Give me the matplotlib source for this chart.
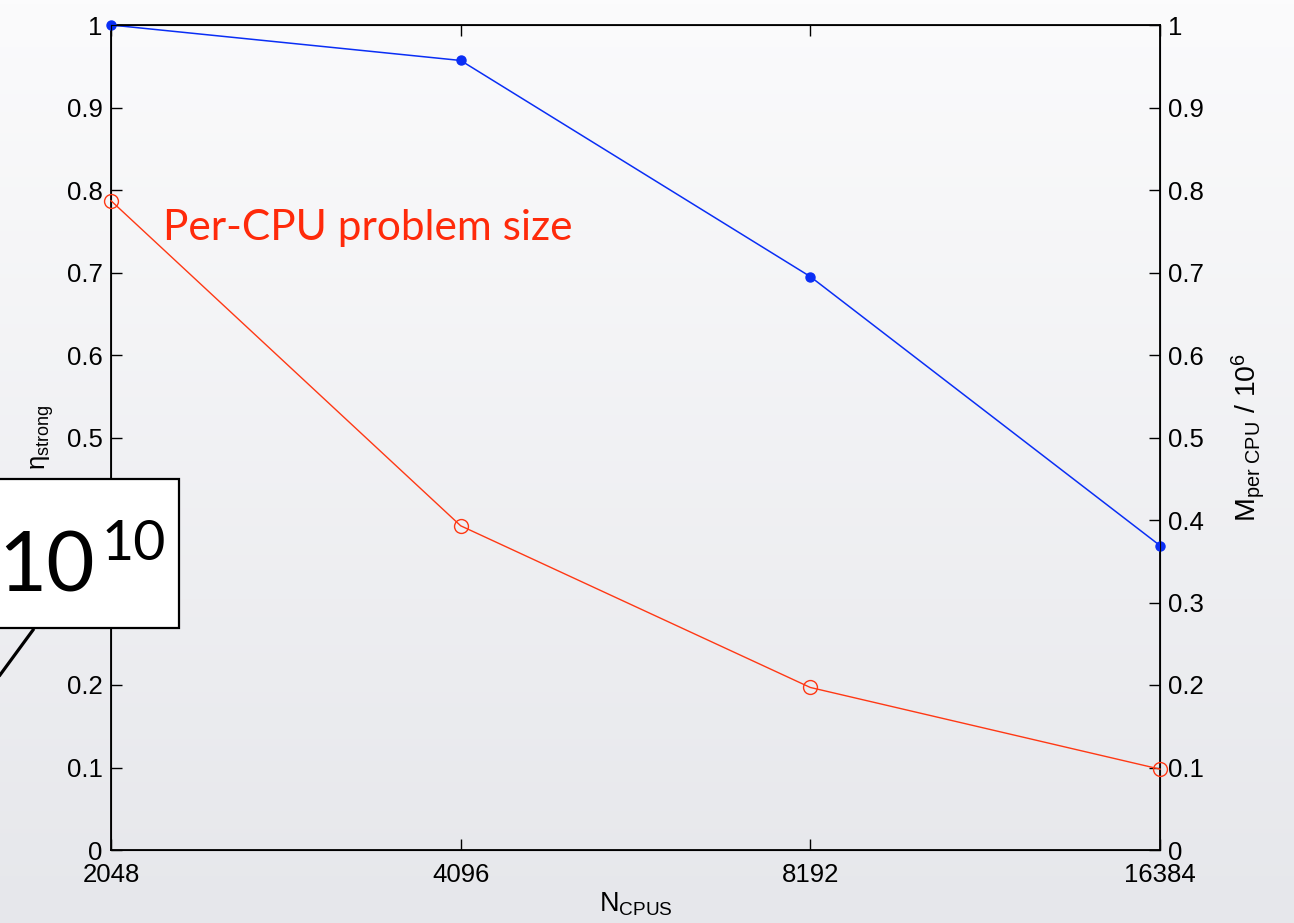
import numpy as np
import matplotlib
matplotlib.use('Agg')
import matplotlib.pyplot as plt
from matplotlib.patches import Rectangle
from matplotlib.lines import Line2D

plt.rcParams['font.family'] = ['Liberation Sans', 'DejaVu Sans']
plt.rcParams['mathtext.fontset'] = 'custom'
plt.rcParams['mathtext.rm'] = 'Liberation Sans'
plt.rcParams['mathtext.it'] = 'Liberation Sans:italic'

# strong scaling runs
n_cpus = [2048, 4096, 8192, 16384]
eta_strong = [1.0, 0.957, 0.695, 0.369]
m_per_cpu = [0.787, 0.393, 0.197, 0.098]   # / 1e6

y_ticks = [0, 0.1, 0.2, 0.3, 0.4, 0.5, 0.6, 0.7, 0.8, 0.9, 1]
y_tick_labels = ['0', '0.1', '0.2', '0.3', '0.4', '0.5', '0.6', '0.7', '0.8', '0.9', '1']

W, H = 1294, 923
fig = plt.figure(figsize=(W / 100, H / 100), dpi=100)

# soft slide-style background
bg = fig.add_axes([0, 0, 1, 1], zorder=-10)
grad = np.linspace(0, 1, 256).reshape(-1, 1)
top = np.array([251, 251, 252]) / 255
bot = np.array([230, 231, 235]) / 255
img = top + (bot - top) * grad[:, :, None]
bg.imshow(img, aspect='auto', extent=[0, 1, 0, 1])
bg.axis('off')

ax = fig.add_axes([111 / W, (H - 850) / H, (1160 - 111) / W, (850 - 25) / H])
ax.set_facecolor('none')
ax.set_xscale('log', base=2)
ax.set_xlim(2048, 16384)
ax.set_ylim(0, 1)

ax.plot(n_cpus, eta_strong, '-o', color='#0a2ef5', lw=1.1, ms=6.5, clip_on=False, zorder=5)
ax.set_xticks(n_cpus)
ax.set_xticklabels([str(n) for n in n_cpus])
ax.xaxis.set_minor_locator(matplotlib.ticker.NullLocator())
ax.set_yticks(y_ticks)
ax.set_yticklabels(y_tick_labels)
ax.tick_params(direction='in', length=8, width=1, labelsize=18.5, top=True, pad=6)
ax.tick_params(axis='x', pad=9)
ax.set_ylabel('η$_{\\mathrm{strong}}$', fontsize=18.5, labelpad=8)
ax.set_xlabel('N$_{\\mathrm{CPUS}}$', fontsize=19.5, labelpad=3)
for s in ax.spines.values():
    s.set_linewidth(1.3)

ax2 = ax.twinx()
ax2.set_ylim(0, 1)
ax2.plot(n_cpus, m_per_cpu, '-o', color='#ff3814', lw=1.0, ms=10, mfc='none', mew=1.0,
         clip_on=False, zorder=5)
ax2.set_yticks(y_ticks)
ax2.set_yticklabels(y_tick_labels)
ax2.tick_params(direction='in', length=8, width=1, labelsize=18.5, pad=6)
ax2.set_ylabel('M$_{\\mathrm{per\\ CPU}}$ / 10$^{6}$', fontsize=20.5, labelpad=18)

fig.text(163 / W, (H - 240) / H, 'Per-CPU problem size', color='#ff2a0a',
         fontsize=30.5, family='Lato', va='baseline', ha='left')

# call-out box for the total problem size
box = Rectangle((-10 / W, (H - 628) / H), 189 / W, 149 / H, transform=fig.transFigure,
                facecolor='white', edgecolor='black', lw=1.6, zorder=20)
fig.add_artist(box)
fig.text(-2 / W, (H - 592) / H, '10', fontsize=60, family='Lato', ha='left',
         va='baseline', zorder=21)
fig.text(166 / W, (H - 560) / H, '10', fontsize=40, family='Lato', ha='right',
         va='baseline', zorder=21)
fig.add_artist(Line2D([0, 33 / W], [(H - 675) / H, (H - 630) / H], transform=fig.transFigure,
                      color='black', lw=2.3, zorder=19))

fig.savefig('out.png', dpi=100)
